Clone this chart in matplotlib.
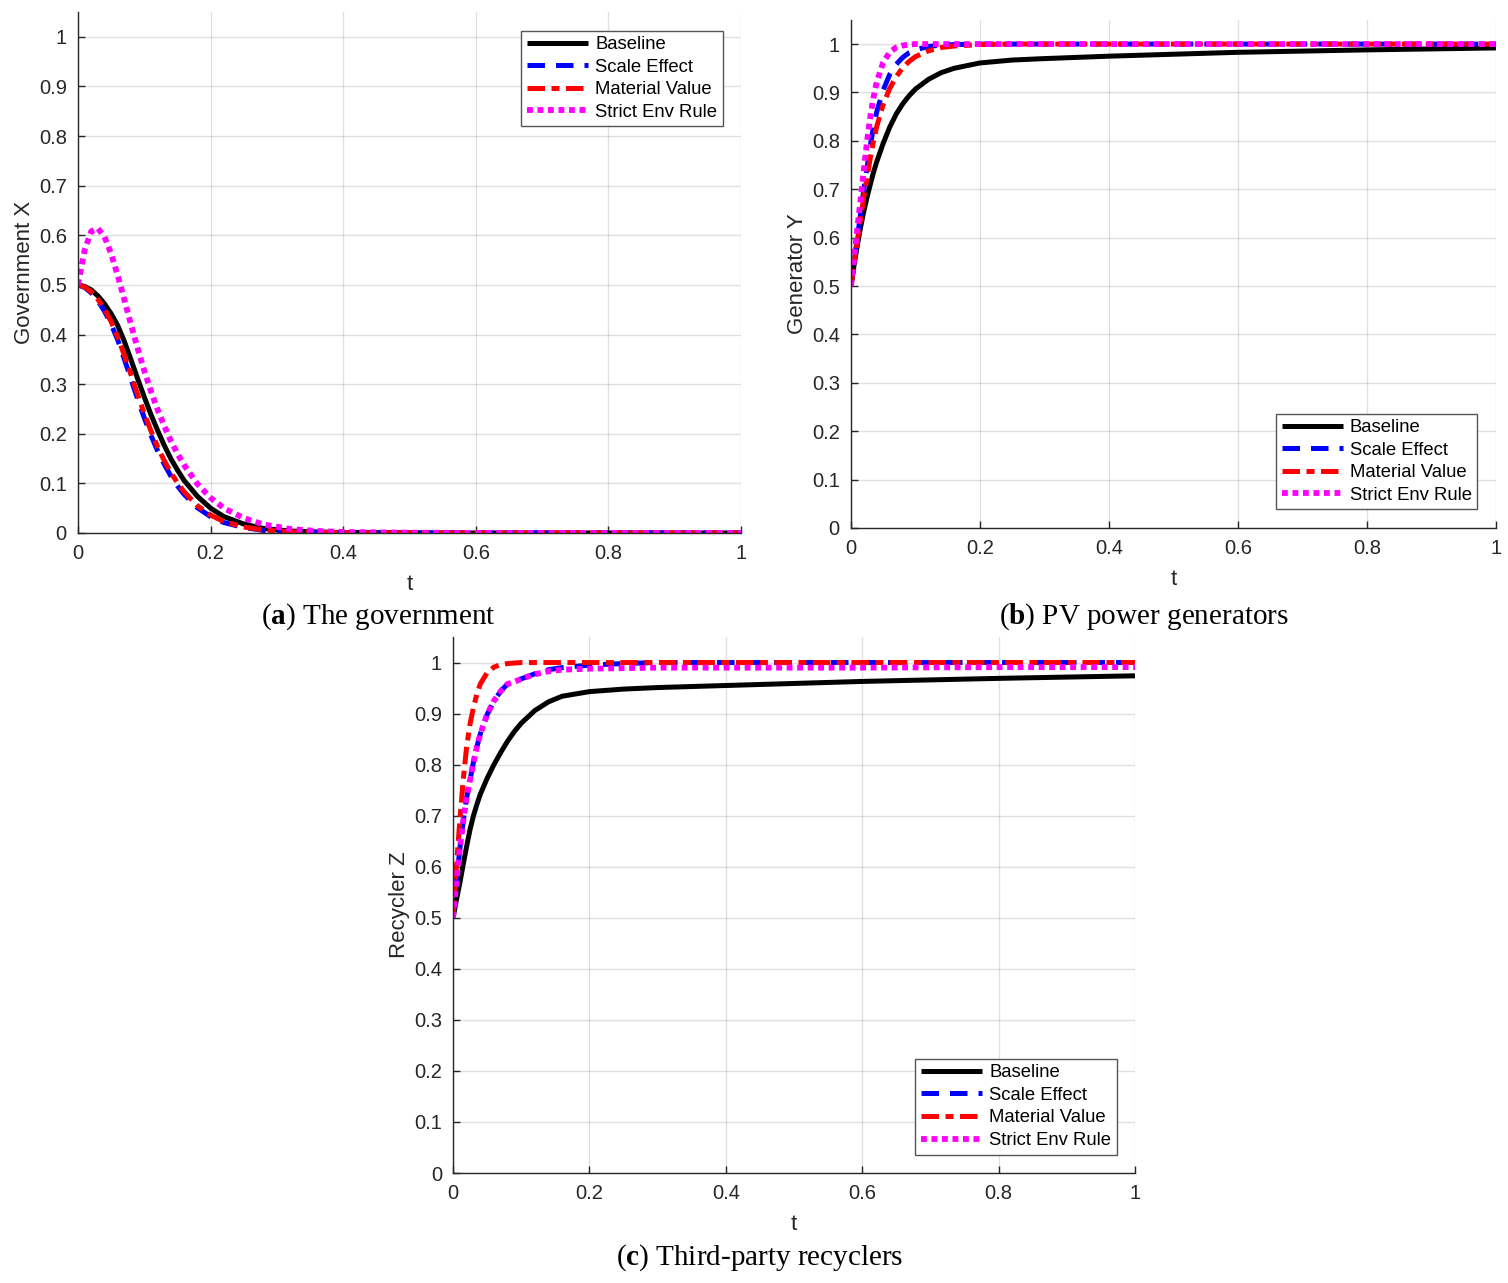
import matplotlib.pyplot as plt

# ---- data ----
labels = ["Baseline", "Scale Effect", "Material Value", "Strict Env Rule"]

t_a = [0, 0.01, 0.02, 0.03, 0.04, 0.05, 0.06, 0.07, 0.08, 0.09, 0.1, 0.11, 0.12,
       0.13, 0.14, 0.15, 0.16, 0.18, 0.2, 0.22, 0.25, 0.28, 0.32, 0.36, 0.4, 0.5,
       0.6, 0.8, 1.0]
gov_base = [0.5, 0.497, 0.490, 0.478, 0.462, 0.442, 0.418, 0.386, 0.349, 0.311, 0.274,
            0.239, 0.207, 0.177, 0.150, 0.127, 0.106, 0.074, 0.050, 0.033, 0.018,
            0.009, 0.004, 0.002, 0.001, 0.0003, 0, 0, 0]
gov_scale = [0.5, 0.495, 0.484, 0.468, 0.447, 0.421, 0.389, 0.350, 0.310, 0.270, 0.232,
             0.197, 0.166, 0.139, 0.115, 0.095, 0.078, 0.051, 0.033, 0.021, 0.011,
             0.005, 0.002, 0.001, 0.0005, 0, 0, 0, 0]
gov_mat = [0.5, 0.496, 0.486, 0.471, 0.451, 0.426, 0.395, 0.358, 0.319, 0.279, 0.241,
           0.206, 0.174, 0.146, 0.122, 0.101, 0.083, 0.055, 0.036, 0.023, 0.012,
           0.006, 0.0025, 0.001, 0.0005, 0, 0, 0, 0]
gov_env = [0.5, 0.57, 0.608, 0.614, 0.597, 0.563, 0.519, 0.470, 0.420, 0.372, 0.327,
           0.286, 0.249, 0.216, 0.186, 0.160, 0.137, 0.099, 0.071, 0.050, 0.030,
           0.017, 0.008, 0.004, 0.002, 0.0005, 0, 0, 0]

t_b = [0, 0.005, 0.01, 0.015, 0.02, 0.025, 0.03, 0.035, 0.04, 0.05, 0.06, 0.07, 0.08,
       0.09, 0.1, 0.12, 0.14, 0.16, 0.2, 0.25, 0.3, 0.4, 0.5, 0.6, 0.8, 1.0]
gen_base = [0.5, 0.545, 0.585, 0.622, 0.655, 0.684, 0.71, 0.735, 0.757, 0.795, 0.828,
            0.855, 0.876, 0.893, 0.907, 0.927, 0.941, 0.950, 0.961, 0.967, 0.970,
            0.975, 0.979, 0.983, 0.988, 0.992]
gen_scale = [0.5, 0.55, 0.60, 0.65, 0.70, 0.745, 0.79, 0.83, 0.86, 0.905, 0.937, 0.958,
             0.972, 0.982, 0.988, 0.995, 0.998, 0.999, 1.0, 1.0, 1.0, 1.0, 1.0, 1.0,
             1.0, 1.0]
gen_mat = [0.5, 0.548, 0.595, 0.64, 0.685, 0.725, 0.765, 0.80, 0.83, 0.875, 0.908, 0.932,
           0.951, 0.964, 0.974, 0.986, 0.993, 0.996, 0.999, 1.0, 1.0, 1.0, 1.0, 1.0,
           1.0, 1.0]
gen_env = [0.5, 0.56, 0.62, 0.68, 0.74, 0.80, 0.85, 0.89, 0.922, 0.962, 0.983, 0.993,
           0.997, 0.999, 1.0, 1.0, 1.0, 1.0, 1.0, 1.0, 1.0, 1.0, 1.0, 1.0, 1.0, 1.0]

t_c = t_b
rec_base = [0.5, 0.535, 0.568, 0.605, 0.64, 0.673, 0.70, 0.722, 0.742, 0.773, 0.80,
            0.824, 0.846, 0.865, 0.881, 0.906, 0.923, 0.934, 0.943, 0.948, 0.951,
            0.955, 0.959, 0.963, 0.969, 0.974]
rec_scale = [0.5, 0.57, 0.635, 0.69, 0.735, 0.77, 0.805, 0.835, 0.86, 0.898, 0.925,
             0.944, 0.958, 0.962, 0.968, 0.978, 0.986, 0.99, 0.995, 0.998, 1.0, 1.0,
             1.0, 1.0, 1.0, 1.0]
rec_mat = [0.5, 0.60, 0.69, 0.77, 0.835, 0.88, 0.912, 0.938, 0.958, 0.98, 0.991, 0.996,
           0.998, 0.999, 1.0, 1.0, 1.0, 1.0, 1.0, 1.0, 1.0, 1.0, 1.0, 1.0, 1.0, 1.0]
rec_env = [0.5, 0.57, 0.635, 0.69, 0.735, 0.77, 0.805, 0.835, 0.86, 0.898, 0.925,
           0.944, 0.958, 0.962, 0.968, 0.977, 0.983, 0.986, 0.988, 0.989, 0.99, 0.99,
           0.99, 0.99, 0.991, 0.991]

x_ticks = [0, 0.2, 0.4, 0.6, 0.8, 1.0]
x_ticklabels = ["0", "0.2", "0.4", "0.6", "0.8", "1"]
y_ticks = [i / 10 for i in range(11)]
y_ticklabels = ["0"] + [f"0.{i}" for i in range(1, 10)] + ["1"]

plt.rcParams['font.family'] = ['Liberation Sans', 'DejaVu Sans']
plt.rcParams['mathtext.fontset'] = 'custom'
plt.rcParams['mathtext.rm'] = 'Liberation Serif'
plt.rcParams['mathtext.bf'] = 'Liberation Serif:bold'

DARK = '#262626'
styles = [
    dict(color='black', linestyle='-', lw=3.6),
    dict(color='#0000ff', dashes=(3.5, 2.2), lw=3.6),
    dict(color='#ff0000', dashes=(3.5, 1.3, 1.6, 1.3), lw=3.6),
    dict(color='#ff00ff', dashes=(1.0, 0.8), lw=4.2),
]


def draw_panel(ax, t, series, ylabel, legend_loc):
    for ys, st, lab in zip(series, styles, labels):
        ax.plot(t, ys, label=lab, solid_capstyle='butt', dash_capstyle='butt', **st)
    ax.set_xlim(0, 1)
    ax.set_ylim(0, 1.05)
    ax.set_xticks(x_ticks)
    ax.set_xticklabels(x_ticklabels)
    ax.set_yticks(y_ticks)
    ax.set_yticklabels(y_ticklabels)
    ax.grid(True, color='#000000', alpha=0.12, lw=1)
    ax.set_axisbelow(True)
    for s in ['top', 'right']:
        ax.spines[s].set_visible(False)
    for s in ['left', 'bottom']:
        ax.spines[s].set_color(DARK)
        ax.spines[s].set_linewidth(1.0)
    ax.tick_params(direction='in', length=5, width=1, colors=DARK,
                   labelsize=14.5, pad=8)
    ax.set_xlabel("t", fontsize=16, color=DARK, labelpad=8)
    ax.set_ylabel(ylabel, fontsize=16, color=DARK, labelpad=3)
    leg = ax.legend(loc=legend_loc, fontsize=13.3, handlelength=3.3,
                    handletextpad=0.4, labelspacing=0.3, borderpad=0.3,
                    borderaxespad=1.0, fancybox=False, framealpha=1)
    leg.get_frame().set_edgecolor('#555555')
    leg.get_frame().set_linewidth(1.0)


fig = plt.figure(figsize=(15.08, 12.83), dpi=100)
ax_a = fig.add_axes([0.0517, 0.5846, 0.4397, 0.406])
ax_b = fig.add_axes([0.5643, 0.5885, 0.4277, 0.396])
ax_c = fig.add_axes([0.3004, 0.0857, 0.4523, 0.4178])

draw_panel(ax_a, t_a, [gov_base, gov_scale, gov_mat, gov_env], "Government X", 'upper right')
draw_panel(ax_b, t_b, [gen_base, gen_scale, gen_mat, gen_env], "Generator Y", 'lower right')
draw_panel(ax_c, t_c, [rec_base, rec_scale, rec_mat, rec_env], "Recycler Z", 'lower right')

cap = dict(fontsize=21, family=['Liberation Serif', 'DejaVu Serif'], ha='center', va='center')
fig.text(378 / 1508, 1 - 617 / 1283, r"($\mathbf{a}$) The government", **cap)
fig.text(1144 / 1508, 1 - 617 / 1283, r"($\mathbf{b}$) PV power generators", **cap)
fig.text(760 / 1508, 1 - 1258 / 1283, r"($\mathbf{c}$) Third-party recyclers", **cap)

fig.savefig("out.png", dpi=100, facecolor='white')
